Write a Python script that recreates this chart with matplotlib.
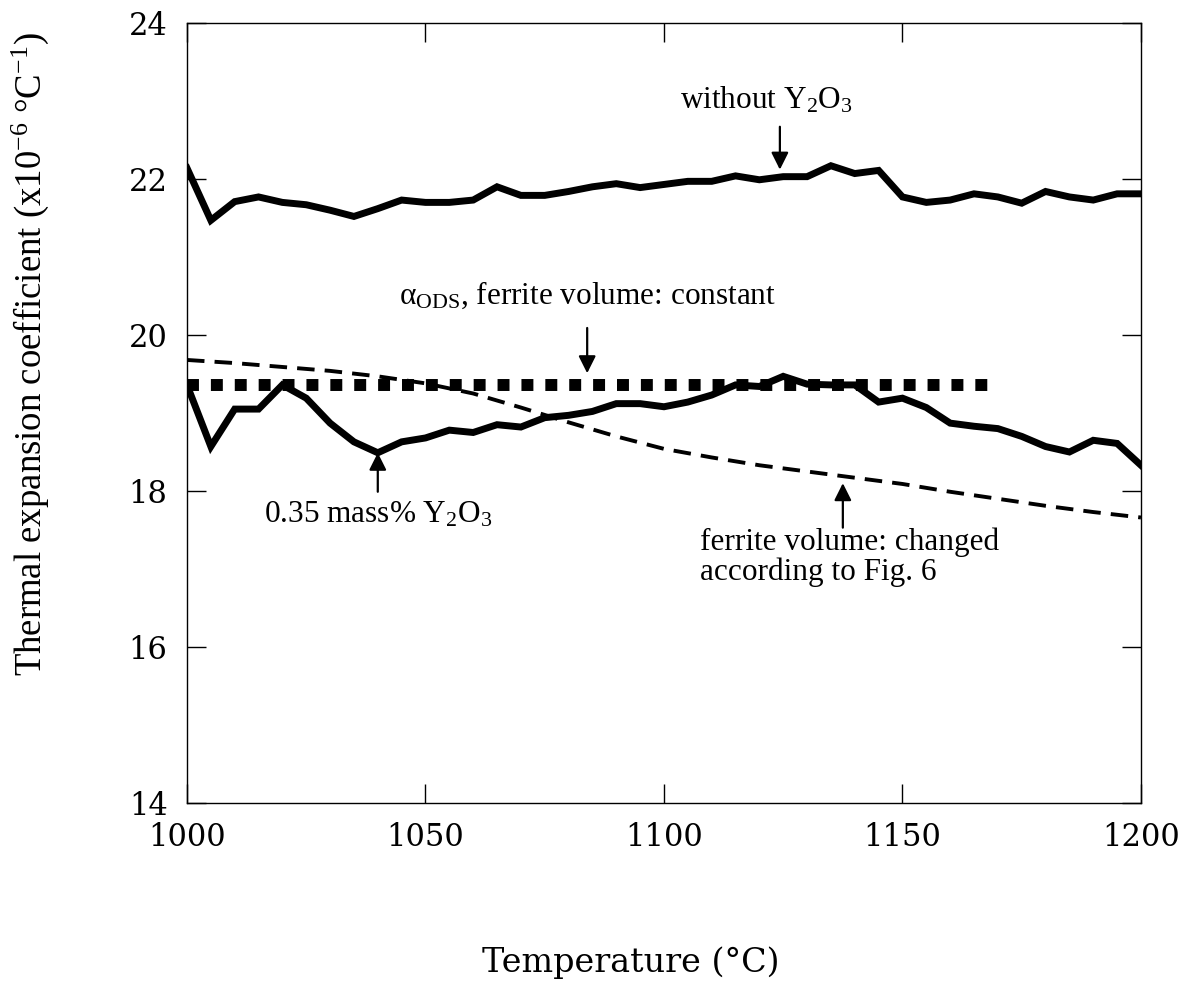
import numpy as np
import matplotlib
matplotlib.use('Agg')
import matplotlib.pyplot as plt

# ---- data ----
temperature = [1000, 1005, 1010, 1015, 1020, 1025, 1030, 1035, 1040, 1045,
               1050, 1055, 1060, 1065, 1070, 1075, 1080, 1085, 1090, 1095,
               1100, 1105, 1110, 1115, 1120, 1125, 1130, 1135, 1140, 1145,
               1150, 1155, 1160, 1165, 1170, 1175, 1180, 1185, 1190, 1195, 1200]

without_y2o3 = [22.14, 21.47, 21.71, 21.77, 21.70, 21.67, 21.60, 21.52, 21.62, 21.73,
                21.70, 21.70, 21.73, 21.90, 21.79, 21.79, 21.84, 21.90, 21.94, 21.89,
                21.93, 21.97, 21.97, 22.04, 21.99, 22.03, 22.03, 22.17, 22.07, 22.11,
                21.77, 21.70, 21.73, 21.81, 21.77, 21.69, 21.84, 21.77, 21.73, 21.81, 21.81]

with_y2o3 = [19.36, 18.57, 19.05, 19.05, 19.36, 19.19, 18.87, 18.63, 18.49, 18.63,
             18.68, 18.78, 18.75, 18.85, 18.82, 18.94, 18.97, 19.02, 19.12, 19.12,
             19.08, 19.14, 19.23, 19.36, 19.34, 19.47, 19.37, 19.36, 19.36, 19.14,
             19.19, 19.07, 18.87, 18.83, 18.80, 18.70, 18.57, 18.50, 18.65, 18.61, 18.33]

const_temp = [1000, 1170]
const_alpha = [19.36, 19.36]

changed_temp = [1000, 1010, 1020, 1030, 1040, 1050, 1060, 1070, 1080, 1090, 1100,
                1110, 1120, 1130, 1140, 1150, 1160, 1170, 1180, 1190, 1200]
changed_alpha = [19.68, 19.64, 19.59, 19.54, 19.47, 19.38, 19.25, 19.07, 18.88, 18.70, 18.54,
                 18.43, 18.33, 18.25, 18.17, 18.09, 17.99, 17.90, 17.81, 17.73, 17.66]

x_ticks = [1000, 1050, 1100, 1150, 1200]
y_ticks = [14, 16, 18, 20, 22, 24]

plt.rcParams['mathtext.fontset'] = 'custom'
plt.rcParams['mathtext.rm'] = 'Liberation Serif'
plt.rcParams['mathtext.it'] = 'Liberation Serif:italic'

fig = plt.figure(figsize=(11.88, 9.96), dpi=100)
ax = fig.add_axes([0.1574, 0.1938, 0.803, 0.7831])

ax.plot(temperature, without_y2o3, color='k', lw=5, solid_joinstyle='miter')
ax.plot(temperature, with_y2o3, color='k', lw=5, solid_joinstyle='miter')
ax.plot(const_temp, const_alpha, color='k', lw=8.6, dashes=(1, 1), dash_capstyle='butt')
ax.plot(changed_temp, changed_alpha, color='k', lw=2.8, dashes=(4.5, 2.6), dash_capstyle='butt')

ax.set_xlim(1000, 1200)
ax.set_ylim(14, 24)
ax.set_xticks(x_ticks)
ax.set_yticks(y_ticks)
ax.tick_params(direction='in', length=14, width=1, top=True, right=True,
               labelsize=22, pad=14)
for lab in ax.get_xticklabels() + ax.get_yticklabels():
    lab.set_fontfamily('DejaVu Serif')
for s in ax.spines.values():
    s.set_linewidth(1.0)

ax.set_xlabel('Temperature (°C)', fontsize=24, family='DejaVu Serif', va='center')
ax.xaxis.set_label_coords(0.465, -0.205)
ax.set_ylabel('Thermal expansion coefficient (x10$^{-6}$ °C$^{-1}$)',
              fontsize=26.5, family='Liberation Serif', va='center')
ax.yaxis.set_label_coords(-0.1646, 0.5756)

arrow = dict(arrowstyle='-|>', mutation_scale=26, lw=1.6, color='k',
             shrinkA=0, shrinkB=0)
txt = dict(fontsize=22.5, family='Liberation Serif', ha='center', va='center')

ax.text(1121.4, 23.01, 'without Y$_2$O$_3$', **txt)
ax.annotate('', xy=(1124.3, 22.12), xytext=(1124.3, 22.67), arrowprops=arrow)

ax.text(1083.9, 20.51, 'α$_{\\rm ODS}$, ferrite volume: constant', **txt)
ax.annotate('', xy=(1083.9, 19.51), xytext=(1083.9, 20.09), arrowprops=arrow)

ax.text(1040.0, 17.69, '0.35 mass% Y$_2$O$_3$', **txt)
ax.annotate('', xy=(1040.0, 18.49), xytext=(1040.0, 17.99), arrowprops=arrow)

ax.text(1107.5, 17.15, 'ferrite volume: changed\naccording to Fig. 6',
        fontsize=22.5, family='Liberation Serif', ha='left', va='center', linespacing=1.05)
ax.annotate('', xy=(1137.5, 18.10), xytext=(1137.5, 17.53), arrowprops=arrow)

fig.savefig('out.png', dpi=100)
